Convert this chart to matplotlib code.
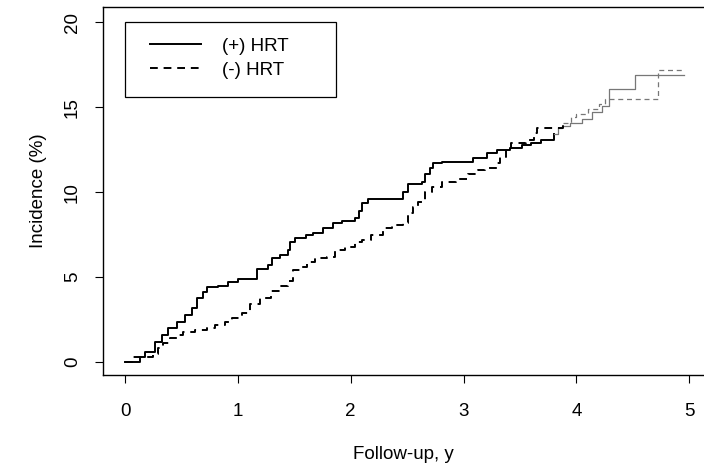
import matplotlib
matplotlib.use("Agg")
import matplotlib.pyplot as plt
import numpy as np
from matplotlib.patches import Rectangle

plt.rcParams['font.family'] = ['Liberation Sans', 'DejaVu Sans']

# (+) HRT cumulative incidence, step after each event
hrt_t = [0, 0.13, 0.18, 0.27, 0.33, 0.38, 0.46, 0.53, 0.59, 0.64,
         0.69, 0.73, 0.82, 0.91, 1.0, 1.17, 1.27, 1.30, 1.37, 1.44,
         1.46, 1.51, 1.60, 1.67, 1.75, 1.84, 1.92, 2.04, 2.07, 2.10,
         2.15, 2.46, 2.51, 2.63, 2.66, 2.70, 2.73, 2.81, 3.08, 3.21,
         3.30, 3.41, 3.52, 3.60, 3.69, 3.80, 3.84, 3.87, 3.94, 4.05,
         4.14, 4.23, 4.29, 4.52, 4.95]
hrt_y = [0, 0.3, 0.6, 1.2, 1.6, 2.0, 2.35, 2.8, 3.2, 3.8,
         4.1, 4.4, 4.5, 4.7, 4.9, 5.5, 5.7, 6.1, 6.3, 6.6,
         7.06, 7.3, 7.5, 7.6, 7.9, 8.2, 8.3, 8.5, 8.9, 9.35,
         9.6, 10.0, 10.5, 10.6, 11.1, 11.4, 11.7, 11.8, 12.0, 12.3,
         12.5, 12.6, 12.8, 12.9, 13.06, 13.4, 13.8, 13.9, 14.1, 14.3,
         14.7, 15.1, 16.1, 16.9, 16.9]

# (-) HRT
no_t = [0, 0.06, 0.25, 0.29, 0.34, 0.40, 0.46, 0.51, 0.62, 0.73,
        0.80, 0.89, 0.95, 1.04, 1.11, 1.20, 1.29, 1.37, 1.44, 1.49,
        1.57, 1.61, 1.68, 1.79, 1.86, 1.95, 2.04, 2.10, 2.18, 2.29,
        2.37, 2.46, 2.51, 2.55, 2.60, 2.66, 2.72, 2.81, 2.93, 3.04,
        3.13, 3.19, 3.30, 3.32, 3.38, 3.42, 3.55, 3.62, 3.65, 3.88,
        3.95, 4.00, 4.10, 4.20, 4.25, 4.72, 4.96]
no_y = [0, 0.3, 0.5, 0.8, 1.1, 1.4, 1.6, 1.8, 1.9, 2.0,
        2.2, 2.35, 2.6, 2.9, 3.4, 3.75, 4.2, 4.5, 4.8, 5.4,
        5.6, 5.9, 6.1, 6.2, 6.6, 6.8, 7.06, 7.2, 7.5, 7.9,
        8.06, 8.2, 8.75, 9.1, 9.4, 10.0, 10.3, 10.6, 10.8, 11.06,
        11.3, 11.4, 11.7, 12.1, 12.6, 12.9, 13.06, 13.5, 13.8, 14.1,
        14.4, 14.6, 14.9, 15.2, 15.5, 17.2, 17.2]

x_ticks = [0, 1, 2, 3, 4, 5]
y_ticks = [0, 5, 10, 15, 20]
labels = ['(+) HRT', '(-) HRT']

fade_from = 3.7  # the scan gets faint after this follow-up time
fs = 13.5


def step_curve(ax, t, y, ls, label):
    t = np.asarray(t)
    y = np.asarray(y)
    k = np.searchsorted(t, fade_from)
    ax.step(t[:k + 1], y[:k + 1], where='post', color='black', lw=1.4, ls=ls, label=label)
    ax.step(t[k:], y[k:], where='post', color='#777777', lw=0.9, ls=ls)


fig = plt.figure(figsize=(7.04, 4.70), dpi=100)
ax = fig.add_axes([103 / 704, 95 / 470, 601 / 704, 368 / 470])

step_curve(ax, hrt_t, hrt_y, '-', labels[0])
step_curve(ax, no_t, no_y, (0, (4, 3)), labels[1])

ax.set_xlim(-0.195, 5.13)
ax.set_ylim(-0.76, 20.9)
ax.set_xticks(x_ticks)
ax.set_yticks(y_ticks)
ax.set_yticklabels([str(v) for v in y_ticks], rotation=90, va='center')
ax.tick_params(direction='out', length=6, width=0.8, labelsize=fs)
ax.tick_params(axis='x', pad=14)
ax.tick_params(axis='y', pad=10)
ax.spines['right'].set_visible(False)
for s in ['left', 'bottom', 'top']:
    ax.spines[s].set_linewidth(1.0)

ax.set_xlabel('Follow-up, y', fontsize=fs, labelpad=19)
ax.set_ylabel('Incidence (%)', fontsize=fs, labelpad=12)

# legend frame drawn on its own so the padding can match the scan
ax.add_patch(Rectangle((0.0366, 0.755), 0.351, 0.204, transform=ax.transAxes,
                       fill=False, edgecolor='black', lw=0.9, zorder=5))
ax.legend(loc='upper left', bbox_to_anchor=(0.0782, 0.917), frameon=False,
          fontsize=fs, handlelength=2.7, handletextpad=1.15, borderpad=0,
          labelspacing=0.38, borderaxespad=0)

fig.savefig('out.png', dpi=100)
